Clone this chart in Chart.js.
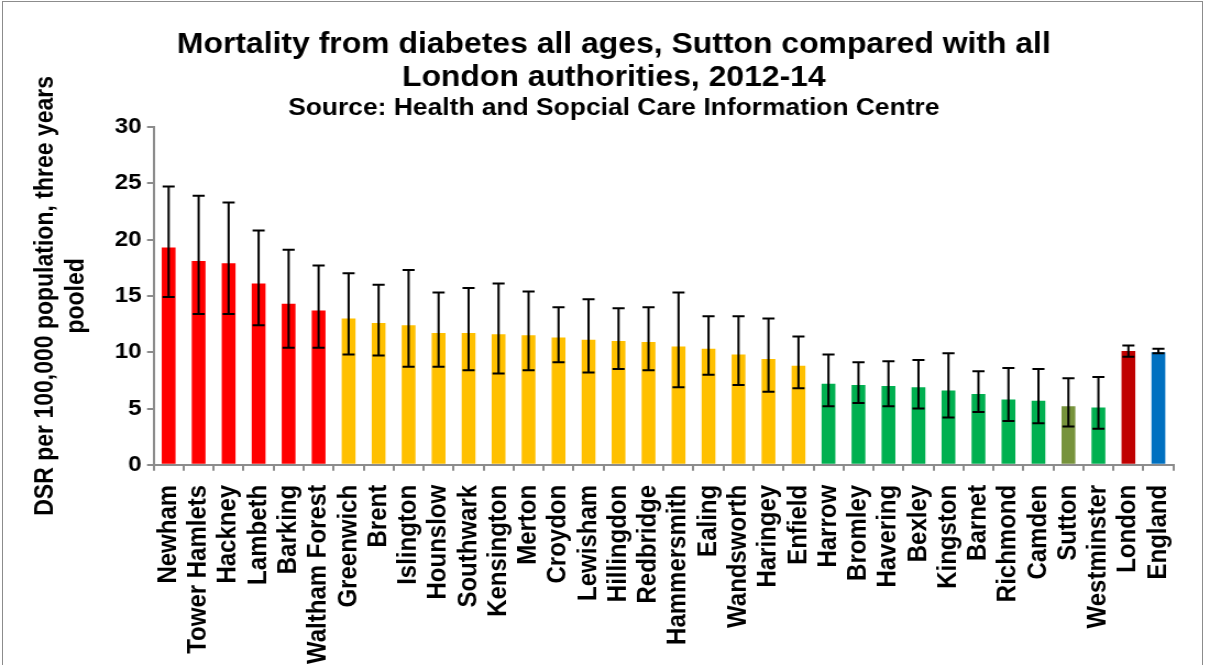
<!DOCTYPE html>
<html>
<head>
<meta charset="utf-8">
<script src="https://cdn.jsdelivr.net/npm/chart.js@4"></script>
<style>
  body { margin: 0; background: #fff; overflow: hidden; }
  #wrap { position: absolute; left: 2px; top: 1px; width: 1201px; height: 670px; border: 1px solid #8c8c8c; box-sizing: border-box; }
  /* the reference is a slightly widened picture, so the canvas is stretched 10% sideways */
  #box { position: absolute; left: 0; top: 0; width: 1096px; height: 665px; transform: scaleX(1.1); transform-origin: 0 0; }
</style>
</head>
<body>
<div id="wrap"></div>
<div id="box"><canvas id="diabetesChart"></canvas></div>
<script>
// values
const areas = ["Newham", "Tower Hamlets", "Hackney", "Lambeth", "Barking", "Waltham Forest",
    "Greenwich", "Brent", "Islington", "Hounslow", "Southwark", "Kensington", "Merton",
    "Croydon", "Lewisham", "Hillingdon", "Redbridge", "Hammersmith", "Ealing", "Wandsworth",
    "Haringey", "Enfield", "Harrow", "Bromley", "Havering", "Bexley", "Kingston", "Barnet",
    "Richmond", "Camden", "Sutton", "Westminster", "London", "England"];

const rates = [19.3, 18.1, 17.9, 16.1, 14.3, 13.7, 13.0, 12.6, 12.4, 11.7, 11.7, 11.6, 11.5,
    11.3, 11.1, 11.0, 10.9, 10.5, 10.3, 9.8, 9.4, 8.8, 7.2, 7.1, 7.0, 6.9, 6.6, 6.3,
    5.8, 5.7, 5.2, 5.1, 10.1, 10.0];

const lowerCI = [14.9, 13.4, 13.4, 12.4, 10.4, 10.4, 9.8, 9.7, 8.7, 8.7, 8.4, 8.1, 8.4,
    9.1, 8.2, 8.5, 8.4, 6.9, 8.0, 7.1, 6.5, 6.8, 5.2, 5.5, 5.2, 5.0, 4.2, 4.7,
    3.9, 3.7, 3.4, 3.2, 9.6, 9.9];

const upperCI = [24.7, 23.9, 23.3, 20.8, 19.1, 17.7, 17.0, 16.0, 17.3, 15.3, 15.7, 16.1, 15.4,
    14.0, 14.7, 13.9, 14.0, 15.3, 13.2, 13.2, 13.0, 11.4, 9.8, 9.1, 9.2, 9.3, 9.9, 8.3,
    8.6, 8.5, 7.7, 7.8, 10.6, 10.3];

const groups = ["high", "high", "high", "high", "high", "high",
    "mid", "mid", "mid", "mid", "mid", "mid", "mid", "mid", "mid", "mid", "mid", "mid",
    "mid", "mid", "mid", "mid",
    "low", "low", "low", "low", "low", "low", "low", "low", "sutton", "low", "london", "england"];

const groupColours = {
    high: "#ff0000",
    mid: "#ffc000",
    low: "#00b050",
    sutton: "#77933c",
    london: "#c00000",
    england: "#0070c0"
};

const errorBars = {
    id: "errorBars",
    afterDatasetsDraw(chart) {
        const ctx = chart.ctx;
        const meta = chart.getDatasetMeta(0);
        const y = chart.scales.y;
        ctx.save();
        ctx.strokeStyle = "#000";
        ctx.lineWidth = 2;
        meta.data.forEach(function (bar, i) {
            const top = y.getPixelForValue(upperCI[i]);
            const bottom = y.getPixelForValue(lowerCI[i]);
            ctx.beginPath();
            ctx.moveTo(bar.x, top);
            ctx.lineTo(bar.x, bottom);
            ctx.moveTo(bar.x - 5.5, top);
            ctx.lineTo(bar.x + 5.5, top);
            ctx.moveTo(bar.x - 5.5, bottom);
            ctx.lineTo(bar.x + 5.5, bottom);
            ctx.stroke();
        });
        ctx.restore();
    }
};

const font = "Liberation Sans, Arial, sans-serif";
const ctx = document.getElementById("diabetesChart");

new Chart(ctx, {
    type: "bar",
    data: {
        labels: areas,
        datasets: [{
            data: rates,
            backgroundColor: groups.map(g => groupColours[g]),
            barPercentage: 0.46,
            categoryPercentage: 1
        }]
    },
    options: {
        responsive: true,
        maintainAspectRatio: false,
        animation: false,
        layout: { padding: { left: 28, right: 8, top: 8, bottom: -13 } },
        plugins: {
            legend: { display: false },
            tooltip: { enabled: false },
            title: {
                display: true,
                text: ["Mortality from diabetes all ages, Sutton compared with all", "London authorities, 2012-14"],
                color: "#000",
                font: { family: font, size: 29, weight: "bold", lineHeight: 1.14 },
                padding: { top: 20, bottom: 0 }
            },
            subtitle: {
                display: true,
                text: "Source: Health and Sopcial Care Information Centre",
                color: "#000",
                font: { family: font, size: 24, weight: "bold" },
                padding: { top: 0, bottom: 4 }
            }
        },
        scales: {
            x: {
                grid: { drawOnChartArea: false, color: "#8c8c8c", lineWidth: 2, tickLength: 6 },
                border: { color: "#8c8c8c", width: 2 },
                ticks: {
                    color: "#000",
                    maxRotation: 90,
                    minRotation: 90,
                    autoSkip: false,
                    padding: 14,
                    font: { family: font, size: 24, weight: "bold" }
                }
            },
            y: {
                min: 0,
                max: 30,
                ticks: {
                    stepSize: 5,
                    color: "#000",
                    padding: 5,
                    font: { family: font, size: 22, weight: "bold" }
                },
                grid: { drawOnChartArea: false, color: "#8c8c8c", lineWidth: 2, tickLength: 6 },
                border: { color: "#8c8c8c", width: 2 },
                title: {
                    display: true,
                    text: ["DSR per 100,000 population, three years", "pooled"],
                    color: "#000",
                    font: { family: font, size: 23, weight: "bold", lineHeight: 1.2 },
                    padding: { top: 0, bottom: 16 }
                }
            }
        }
    },
    plugins: [errorBars]
});
</script>
</body>
</html>
